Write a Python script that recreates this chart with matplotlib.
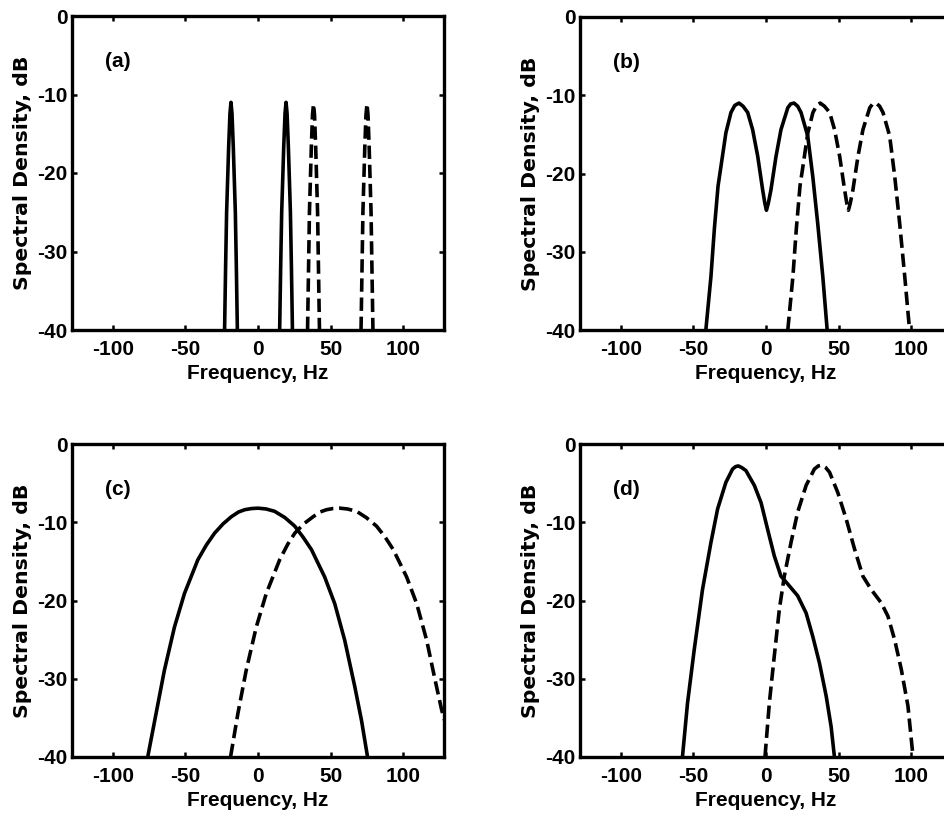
import numpy as np
import matplotlib.pyplot as plt

plt.rcParams['font.family'] = ['Liberation Sans', 'DejaVu Sans']
plt.rcParams['font.weight'] = 'bold'
plt.rcParams['axes.unicode_minus'] = False

nan = np.nan

freq_ticks = [-100, -50, 0, 50, 100]
db_ticks = [0, -10, -20, -30, -40]
panel_names = ['(a)', '(b)', '(c)', '(d)']

# (a) waskie piki
a_solid_f = [-23.0, -22.3, -21.6, -20.2, -19.3, -18.6, -17.9, -17.0, -15.6, -14.9, -14.2, nan,
             14.9, 15.6, 16.3, 17.7, 18.6, 19.3, 20.0, 20.9, 22.3, 23.0, 23.7]
a_solid_db = [-40, -32, -25, -16.7, -12.4, -11.0, -12.4, -16.7, -25, -32, -40, nan,
              -40, -32, -25, -16.7, -12.4, -11.0, -12.4, -16.7, -25, -32, -40]
a_dash_f = [34.1, 34.8, 35.4, 36.7, 37.5, 38.2, 38.9, 39.7, 41.0, 41.6, 42.3, nan,
            70.9, 71.6, 72.2, 73.5, 74.3, 75.0, 75.7, 76.5, 77.8, 78.4, 79.1]
a_dash_db = [-40, -32, -25, -16.7, -12.6, -11.2, -12.6, -16.7, -25, -32, -40, nan,
             -40, -32, -25, -16.7, -12.6, -11.2, -12.6, -16.7, -25, -32, -40]

# (b) dwa piki z dolina
b_solid_f = [-41.4, -37.9, -35.5, -33.0, -31.0, -27.6, -24.1, -21.5, -18.6, -15.8, -12.6, -9.2, -5.7,
             -2.3, -0.8, 0.3, 1.6, 3.4, 6.9, 10.3, 15.0, 17.0, 19.3, 21.8, 24.1, 28.7, 32.2, 35.6,
             39.1, 42.1]
b_solid_db = [-40, -33.2, -27.0, -21.6, -19.1, -14.8, -12.2, -11.3, -11.0, -11.4, -12.2, -14.4, -17.8,
              -22.1, -23.8, -24.7, -23.8, -22.1, -17.8, -14.4, -11.6, -11.1, -11.0, -11.4, -12.2,
              -15.2, -20.4, -26.4, -33.2, -40]
b_dash_f = [15.0, 18.5, 20.9, 23.4, 25.4, 28.8, 32.3, 34.9, 37.3, 40.2, 43.8, 47.2, 50.7,
            54.1, 55.6, 56.7, 58.0, 59.8, 63.3, 66.7, 71.4, 73.4, 75.7, 78.2, 80.5, 85.1, 88.6,
            92.0, 95.5, 98.8]
b_dash_db = [-40, -33.2, -27.0, -21.6, -19.1, -14.8, -12.2, -11.3, -11.0, -11.4, -12.2, -14.4, -17.8,
             -22.1, -23.8, -24.7, -23.8, -22.1, -17.8, -14.4, -11.6, -11.1, -11.0, -11.4, -12.2,
             -15.2, -20.4, -26.4, -33.2, -40]

# (c) szerokie widmo
c_solid_f = [-75.9, -70.1, -64.4, -57.5, -50.6, -41.4, -35.5, -29.9, -24.0, -18.4, -13.5, -9.2, -4.5,
             0, 5.5, 11.4, 18.5, 25.3, 31.0, 36.8, 45.9, 52.8, 59.7, 66.6, 71.2, 75.4]
c_solid_db = [-40, -34.4, -28.9, -23.4, -19.1, -14.8, -12.9, -11.4, -10.2, -9.3, -8.7, -8.4, -8.25,
              -8.2, -8.3, -8.6, -9.4, -10.5, -11.9, -13.5, -17.0, -20.4, -25.1, -31.0, -35.3, -40]
c_dash_f = [-18.9, -13.8, -8.1, -1.2, 5.7, 14.9, 20.5, 25.3, 31.5, 37.9, 42.5, 47.1, 51.5,
            56.3, 61.5, 67.8, 74.5, 81.6, 87.5, 93.1, 102.3, 109.2, 116.1, 121.8, 126.4, 129.7]
c_dash_db = [-40, -34.4, -28.9, -23.4, -19.1, -14.8, -12.8, -11.4, -10.2, -9.3, -8.7, -8.4, -8.25,
             -8.2, -8.3, -8.6, -9.4, -10.5, -11.9, -13.5, -17.0, -20.4, -25.1, -30.1, -34.0, -36.1]

# (d) asymetryczne
d_solid_f = [-57.5, -54.0, -49.4, -43.7, -37.9, -33.3, -27.6, -23.0, -21.0, -19.1, -16.8, -13.8, -8.0,
             -3.4, 1.1, 5.7, 10.3, 15.0, 21.8, 27.6, 32.2, 36.8, 41.4, 44.8, 47.1]
d_solid_db = [-40, -33.1, -26.3, -18.6, -12.6, -8.3, -4.9, -3.2, -2.9, -2.8, -3.0, -3.4, -5.3,
              -7.5, -10.9, -14.3, -16.9, -17.9, -19.4, -21.6, -24.6, -28.0, -32.2, -36.1, -40]
d_dash_f = [-0.7, 2.3, 5.7, 9.2, 12.6, 17.2, 21.8, 27.6, 33.3, 36.0, 38.4, 41.0, 43.7, 49.4,
            55.2, 60.9, 66.7, 72.4, 79.3, 83.9, 88.5, 93.1, 97.7, 101.2]
d_dash_db = [-40, -33.1, -27.1, -21.1, -16.9, -12.6, -8.7, -5.3, -3.2, -2.8, -2.7, -3.0, -3.6, -6.2,
             -9.6, -13.4, -16.9, -18.6, -20.3, -22.0, -25.0, -28.8, -33.5, -40]

solid = [(a_solid_f, a_solid_db), (b_solid_f, b_solid_db), (c_solid_f, c_solid_db), (d_solid_f, d_solid_db)]
dashed = [(a_dash_f, a_dash_db), (b_dash_f, b_dash_db), (c_dash_f, c_dash_db), (d_dash_f, d_dash_db)]

fig = plt.figure(figsize=(9.45, 8.17), dpi=100)
W, H = 945, 817
# pozycje osi w pikselach: lewo, gora, prawo, dol
boxes = [(72, 16, 444, 330), (580, 17, 952, 330), (72, 444, 444, 757), (580, 444, 952, 757)]

for i in range(4):
    l, t, r, b = boxes[i]
    ax = fig.add_axes([l / W, 1 - b / H, (r - l) / W, (b - t) / H])
    ax.plot(solid[i][0], solid[i][1], 'k-', linewidth=2.6)
    ax.plot(dashed[i][0], dashed[i][1], 'k--', linewidth=2.6)
    ax.set_xlim(-128, 128)
    ax.set_ylim(-40, 0)
    ax.set_xticks(freq_ticks)
    ax.set_yticks(db_ticks)
    ax.tick_params(direction='in', top=True, right=True, length=3.5, width=1.8, labelsize=15)
    ax.tick_params(axis='x', pad=7)
    ax.tick_params(axis='y', pad=3)
    for s in ax.spines.values():
        s.set_linewidth(2.4)
    ax.set_xlabel('Frequency, Hz', fontsize=15, fontweight='bold', labelpad=4)
    ax.set_ylabel('Spectral Density, dB', fontsize=14.7, fontweight='bold', labelpad=4,
                  family='DejaVu Sans')
    ax.text(-105.5, -5.8, panel_names[i], fontsize=15, fontweight='bold', va='center')

plt.savefig('out.png', dpi=100)
